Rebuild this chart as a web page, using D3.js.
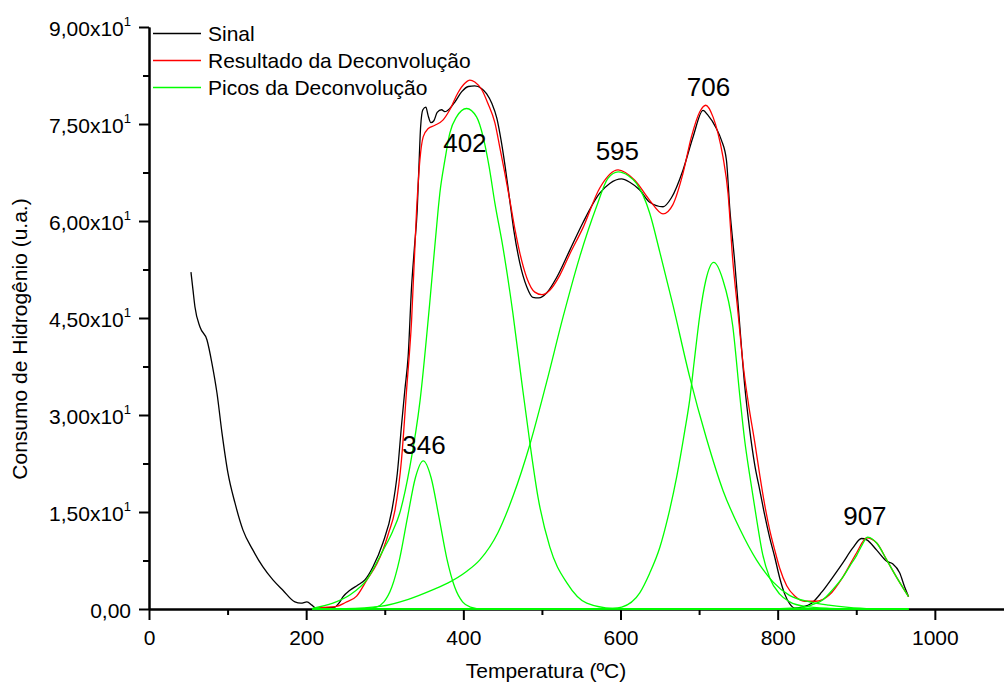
<!DOCTYPE html>
<html>
<head>
<meta charset="utf-8">
<script src="https://cdn.jsdelivr.net/npm/d3@7"></script>
<style>
  body { margin: 0; background: #fff; }
  svg { display: block; font-family: 'Liberation Sans', Arial, sans-serif; }
</style>
</head>
<body>
<div id="chart"></div>
<script>
// [temperatura (ºC), consumo (u.a.)]
const sinal = [[53.4,52.1],[56.0,49.3],[58.5,46.7],[64.9,43.6],[73.8,41.6],[80.1,38.0],[86.5,33.4],[92.9,27.2],[100.5,21.0],[109.4,16.4],[119.6,12.2],[132.3,9.1],[145.0,6.5],[157.7,4.5],[170.4,2.9],[185.7,1.1],[193.3,0.9],[201.0,1.1],[207.3,0.6],[213.7,0.0],[220.0,0.15],[236.6,0.3],[241.7,0.9],[247.0,1.9],[255.7,2.9],[265.8,3.7],[274.7,4.5],[284.9,6.5],[297.6,10.2],[309.1,15.3],[316.0,21.0],[321.4,28.5],[325.6,33.9],[329.8,39.1],[334.1,49.8],[337.7,55.8],[341.3,61.7],[343.8,69.4],[345.6,74.5],[348.5,77.2],[352.3,77.6],[355.2,76.3],[358.7,75.2],[362.5,75.5],[366.7,76.8],[372.3,77.2],[376.5,76.9],[382.8,77.4],[389.2,78.4],[398.0,80.0],[406.4,80.8],[414.6,80.9],[423.1,80.5],[429.5,79.7],[436.2,78.2],[442.6,75.9],[448.0,72.5],[453.0,68.6],[458.5,63.7],[464.2,58.6],[471.9,53.5],[480.8,49.8],[488.4,48.2],[496.0,48.1],[506.2,48.9],[518.9,51.3],[535.5,55.5],[552.0,59.7],[573.6,64.3],[586.3,65.8],[601.2,66.5],[611.8,66.0],[624.5,64.8],[637.2,62.9],[654.1,62.2],[664.8,63.6],[679.6,67.9],[692.3,73.0],[705.0,77.1],[711.0,76.4],[722.0,74.3],[728.4,72.5],[734.8,69.4],[739.0,62.0],[745.3,53.7],[751.7,43.9],[758.0,34.6],[764.4,27.7],[770.8,22.3],[777.2,18.4],[783.5,14.5],[789.9,11.0],[796.3,8.0],[802.6,4.8],[809.0,2.3],[815.4,0.8],[821.7,0.15],[830.5,0.3],[843.3,0.9],[856.0,2.6],[870.0,4.9],[882.7,7.1],[895.4,9.4],[906.5,10.9],[913.3,10.7],[926.0,9.1],[938.7,7.4],[946.3,7.0],[955.2,5.6],[961.6,3.4],[966.6,1.9]]

const resultado = [[208,0.0],[217.5,0.2],[238.7,0.4],[250,1.0],[264.2,2.0],[277.3,4.5],[290,7.0],[297.6,9.1],[305,11.8],[312.9,15.2],[321.4,23.2],[327.8,33.9],[334.1,44.5],[340.5,61.7],[344.7,69.4],[348.9,73.0],[355.3,74.3],[363.8,74.8],[374,75.6],[382.8,77.2],[393,79.8],[401.9,81.3],[408.3,81.8],[414.6,81.5],[423.5,80.3],[431.2,78.2],[440.1,75.2],[446.4,71.4],[452.8,67.4],[459.2,63.2],[466,58.5],[472,55.0],[480.8,51.2],[491,49.0],[499.9,48.6],[510,49.3],[522.7,51.6],[535.5,54.9],[552,58.9],[573.6,65.1],[596.9,67.9],[618.1,66.3],[637.2,63.2],[654.1,61.1],[666.5,62.5],[679.6,67.4],[690.2,73.0],[700.9,76.9],[708.5,77.9],[717.7,76.1],[724,73.6],[730.4,69.9],[736.8,64.3],[742.8,54.0],[749.2,46.2],[756.8,37.0],[763.1,31.5],[770.8,25.8],[777.2,20.7],[783.5,16.1],[789.9,12.2],[796.3,9.1],[802.6,6.3],[811.5,3.6],[821.7,2.0],[834.4,1.2],[848.3,1.2],[866,2.2],[882.7,4.9],[900.5,8.7],[913.2,11.0],[926,10.2],[938.7,7.6],[951.4,4.9],[966.6,1.9]]

const pico346 = [[208,0],[270,0],[289,0.3],[299,1.1],[309,3.4],[319,7.8],[329,14.2],[339,20.3],[349,22.9],[359,20.3],[369,14.2],[379,7.8],[389,3.4],[399,1.1],[409,0.3],[425,0],[966.6,0]]
const pico402 = [[208,0.1],[234,0.9],[256,2.2],[277,4.5],[298,9.1],[310,12.0],[319,14.8],[332,22.0],[345,32.3],[357,47.0],[367.9,61.7],[370.1,64.3],[376.5,69.4],[382.8,73.6],[391.4,76.1],[404.1,77.4],[416.8,76.1],[425.2,73.0],[432.8,68.4],[440.1,62.8],[450.3,56.0],[463,45.8],[474,35.4],[485,25.4],[495,17.3],[510,9.6],[532,4.0],[557,0.9],[590,0.1],[640,0],[966.6,0]]
const pico595 = [[208,0],[250,0.05],[294,0.4],[330,1.5],[361.6,3.0],[380,4.0],[404,5.8],[421,7.6],[444,11.8],[463.4,17.5],[484.6,25.4],[505.8,35.0],[527,45.2],[548.2,54.5],[569.4,62.2],[584,66.6],[597,67.6],[610,67.0],[620.3,65.8],[637.2,61.2],[650,55.2],[666.9,46.9],[688,35.9],[709.3,26.4],[730.5,18.3],[751.7,12.4],[773,7.6],[794,4.2],[815,2.1],[840.7,1.1],[865,0.6],[887,0.3],[920,0.05],[966.6,0]]
const pico706 = [[208,0],[560,0],[590,0.1],[601.6,0.3],[624.5,2.5],[637,5.5],[650,9.5],[660,14.0],[671.6,20.5],[681.7,27.5],[688,32.3],[694,38.5],[701,45.5],[708.5,50.8],[718.6,53.6],[730,51.0],[742.8,43.8],[751.7,33.1],[758,26.1],[764.4,20.7],[773.3,13.8],[781,8.4],[789.9,4.8],[802.6,2.3],[815.4,1.1],[834.4,0.4],[866,0.1],[900,0],[966.6,0]]
const pico907 = [[208,0],[780,0],[810,0.1],[831.8,0.2],[845,0.7],[857.3,1.4],[870,3.0],[882.7,4.9],[891.6,6.6],[900.5,8.3],[907.5,9.9],[914.5,11.1],[920.8,10.8],[926,10.2],[938.7,7.6],[951.4,4.9],[966.6,1.9]]

const xTicks = [0, 200, 400, 600, 800, 1000]
const xMinorTicks = [100, 300, 500, 700, 900]
const yTicks = [0, 15, 30, 45, 60, 75, 90]
const yMinorTicks = [7.5, 22.5, 37.5, 52.5, 67.5, 82.5]

const legendLabels = ['Sinal', 'Resultado da Deconvolução', 'Picos da Deconvolução']
const legendColors = ['#000000', '#ff0000', '#00ff00']

const peakLabels = ['346', '402', '595', '706', '907']
const peakLabelTemp = [350, 402, 596, 712, 911]
const peakLabelValor = [23.9, 70.7, 69.5, 79.3, 13.0]

const width = 1004
const height = 686

const x = d3.scaleLinear().domain([0, 1088]).range([149, 1004])
const y = d3.scaleLinear().domain([0, 90]).range([609, 27])

const svg = d3.select('#chart').append('svg').attr('width', width).attr('height', height)

// formato "9,00x10¹"
const fmtTick = (v) => {
  if (v === 0) return ['0,00', '']
  const e = Math.floor(Math.log10(v))
  const m = (v / Math.pow(10, e)).toFixed(2).replace('.', ',')
  return [m + 'x10', String(e)]
}

// eixo x
svg.append('g').attr('transform', 'translate(0,609)')
  .call(d3.axisBottom(x).tickValues(xMinorTicks).tickSize(6).tickSizeOuter(0).tickFormat(''))
const xAxis = svg.append('g').attr('transform', 'translate(0,609)')
  .call(d3.axisBottom(x).tickValues(xTicks).tickSize(11).tickSizeOuter(0).tickPadding(10).tickFormat(d3.format('d')))
xAxis.selectAll('text').attr('font-size', 21).attr('font-family', 'Liberation Sans, Arial, sans-serif').attr('fill', '#000')

// eixo y
svg.append('g').attr('transform', 'translate(149,0)')
  .call(d3.axisLeft(y).tickValues(yMinorTicks).tickSize(6).tickSizeOuter(0).tickFormat(''))
const yAxis = svg.append('g').attr('transform', 'translate(149,0)')
  .call(d3.axisLeft(y).tickValues(yTicks).tickSize(10).tickSizeOuter(0).tickPadding(8).tickFormat(''))
yAxis.selectAll('.tick text')
  .attr('font-size', 21).attr('font-family', 'Liberation Sans, Arial, sans-serif').attr('fill', '#000')
  .attr('dy', null).attr('y', 8)
  .each(function (d) {
    const [m, e] = fmtTick(d)
    const t = d3.select(this)
    t.append('tspan').text(m)
    if (e) t.append('tspan').attr('dy', -10).attr('font-size', 13).text(e)
  })

svg.selectAll('.domain, .tick line').attr('stroke', '#000').attr('stroke-width', 2)

// títulos
svg.append('text')
  .attr('x', 546).attr('y', 678)
  .attr('text-anchor', 'middle').attr('font-size', 21)
  .text('Temperatura (ºC)')
svg.append('text')
  .attr('transform', 'translate(27,339) rotate(-90)')
  .attr('text-anchor', 'middle').attr('font-size', 21)
  .text('Consumo de Hidrogênio (u.a.)')

// curvas
const line = d3.line().x((d) => x(d[0])).y((d) => y(d[1])).curve(d3.curveMonotoneX)
const curves = svg.append('g').attr('fill', 'none').attr('stroke-width', 1.3)
curves.append('path').attr('d', line(sinal)).attr('stroke', legendColors[0])
curves.append('path').attr('d', line(resultado)).attr('stroke', legendColors[1])
;[pico346, pico402, pico595, pico706, pico907].forEach((p) => {
  curves.append('path').attr('d', line(p)).attr('stroke', legendColors[2])
})

// rótulos dos picos
svg.selectAll('.peak')
  .data(peakLabels)
  .enter()
  .append('text')
  .attr('class', 'peak')
  .attr('x', (d, i) => x(peakLabelTemp[i]))
  .attr('y', (d, i) => y(peakLabelValor[i]))
  .attr('text-anchor', 'middle')
  .attr('font-size', 26)
  .text((d) => d)

// legenda
const legend = svg.append('g')
legendLabels.forEach((label, i) => {
  const ly = 33.5 + i * 27
  legend.append('line')
    .attr('x1', 153).attr('x2', 201).attr('y1', ly).attr('y2', ly)
    .attr('stroke', legendColors[i]).attr('stroke-width', 1.3)
  legend.append('text')
    .attr('x', 208).attr('y', ly + 7.5)
    .attr('font-size', 21)
    .text(label)
})
</script>
</body>
</html>
